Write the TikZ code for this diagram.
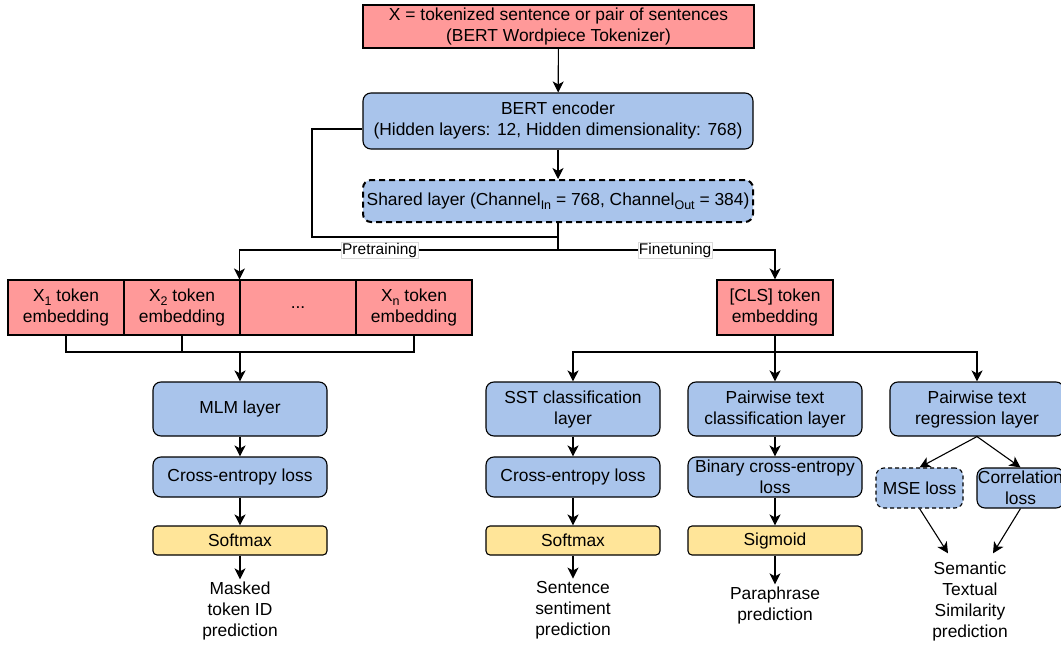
\documentclass[tikz,border=0pt]{standalone}
\usepackage{fontspec}
\setmainfont{Liberation Sans}
\usetikzlibrary{arrows.meta}
\definecolor{tokred}{HTML}{FF9999}
\definecolor{layerblue}{HTML}{A9C4EB}
\definecolor{actyellow}{HTML}{FFE599}
\newcommand{\lowsub}[1]{\raisebox{-0.45ex}{\fontsize{12.5}{12.5}\selectfont #1}}
\begin{document}
\begin{tikzpicture}[x=1pt,y=-1pt,line width=1.1pt,
  font=\fontsize{17.4}{21}\selectfont,
  >={Stealth[length=11pt,width=11pt,inset=3pt]},
  box/.style={draw, align=center, inner sep=0pt},
  redbox/.style={box, fill=tokred, minimum width=116pt, minimum height=55pt},
  bluebox/.style={box, fill=layerblue, rounded corners=8pt, minimum width=174pt, minimum height=54pt},
  lossbox/.style={bluebox, minimum height=40pt},
  actbox/.style={box, fill=actyellow, rounded corners=4pt, minimum width=174pt, minimum height=29pt},
  outtext/.style={align=center, inner sep=2pt},
  phase/.style={fill=white, draw=black!15, line width=0.4pt, inner sep=1pt, font=\fontsize{15.5}{18}\selectfont}]
  \useasboundingbox (0,0) rectangle (1061,645);

  \node[box, fill=tokred, minimum width=391pt, minimum height=43pt] (input) at (558.5,26.5)
    {X = tokenized sentence or pair of sentences\\(BERT Wordpiece Tokenizer)};
  \node[bluebox, minimum width=390pt, minimum height=56pt] (bert) at (558,121)
    {BERT encoder\\(Hidden layers: 12, Hidden dimensionality: 768)};
  \node[bluebox, minimum width=390pt, minimum height=42pt, dashed, dash pattern=on 6pt off 4pt, line width=2pt] (shared) at (558,201)
    {Shared layer (Channel\lowsub{In} = 768, Channel\lowsub{Out} = 384)};

  % token embeddings
  \node[redbox] (tok1) at (66,307.5) {X\lowsub{1} token\\embedding};
  \node[redbox] (tok2) at (182,307.5) {X\lowsub{2} token\\embedding};
  \node[redbox] (tok3) at (298,307.5) {...};
  \node[redbox] (tokn) at (414,307.5) {X\lowsub{n} token\\embedding};
  \node[redbox] (cls) at (775,307.5) {[CLS] token\\embedding};

  % pretraining head
  \node[bluebox] (mlm) at (240,409) {MLM layer};
  \node[lossbox] (mlmloss) at (240,477) {Cross-entropy loss};
  \node[actbox] (mlmact) at (240,540.5) {Softmax};
  \node[outtext] (mlmout) at (240,611) {Masked\\token ID\\prediction};

  % finetuning heads
  \node[bluebox] (sst) at (573,409) {SST classification\\layer};
  \node[lossbox] (sstloss) at (573,477) {Cross-entropy loss};
  \node[actbox] (sstact) at (573,540.5) {Softmax};
  \node[outtext] (sstout) at (573,610) {Sentence\\sentiment\\prediction};

  \node[bluebox] (pairc) at (775,409) {Pairwise text\\classification layer};
  \node[lossbox] (paircloss) at (775,477) {Binary cross-entropy\\loss};
  \node[actbox] (paircact) at (775,540.5) {Sigmoid};
  \node[outtext] (paircout) at (775,605.5) {Paraphrase\\prediction};

  \node[bluebox] (preg) at (977,409) {Pairwise text\\regression layer};
  \node[lossbox, minimum width=87pt, dashed, dash pattern=on 4pt off 3pt] (mse) at (919.5,488) {MSE loss};
  \node[lossbox, minimum width=87pt] (corr) at (1020.5,488) {Correlation\\loss};
  \node[outtext] (stsout) at (970,601.5) {Semantic\\Textual\\Similarity\\prediction};

  \draw[->] (input) -- (bert);
  \draw[->] (bert) -- (shared);
  \coordinate (split) at (558,250);
  \coordinate (skip) at (312,237);
  \draw (shared.south) -- (split);
  \draw ([yshift=-8pt]bert.west) -| (skip) -- (skip -| split);
  \draw[->] (split) -| node[phase, pos=0.28] {Pretraining} (tok3.north west);
  \draw[->] (split) -| node[phase, pos=0.27] {Finetuning} (cls.north);

  \coordinate (join) at (240,352);
  \draw (tok1.south) -- (tok1.south |- join) -- (tokn.south |- join) -- (tokn.south);
  \draw (tok2.south) -- (tok2.south |- join);
  \draw[->] (join) -- (mlm.north);
  \draw[->] (mlm) -- (mlmloss);
  \draw[->] (mlmloss) -- (mlmact);
  \draw[->] (mlmact) -- (mlmout);

  \coordinate (fan) at (775,352);
  \draw[->] (cls) -- (pairc);
  \draw[->] (fan) -| (sst.north);
  \draw[->] (fan) -| (preg.north);
  \draw[->] (sst) -- (sstloss);
  \draw[->] (sstloss) -- (sstact);
  \draw[->] (sstact) -- (sstout);
  \draw[->] (pairc) -- (paircloss);
  \draw[->] (paircloss) -- (paircact);
  \draw[->] (paircact) -- (paircout);
  \draw[->] (preg.south) -- (mse.north);
  \draw[->] (preg.south) -- (corr.north);
  \draw[->] (mse.south) -- ([shift={(-22pt,6pt)}]stsout.north);
  \draw[->] (corr.south) -- ([shift={(23pt,6pt)}]stsout.north);
\end{tikzpicture}
\end{document}
